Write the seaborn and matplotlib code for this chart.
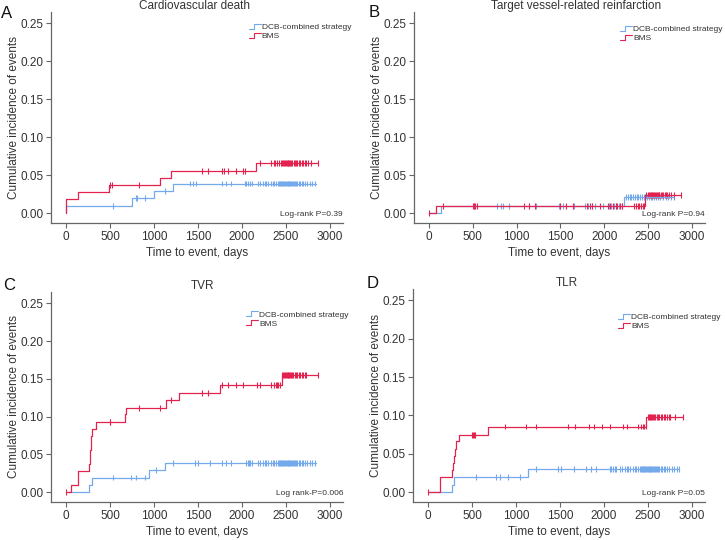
import numpy as np
import pandas as pd
import matplotlib
matplotlib.use("Agg")
import matplotlib.pyplot as plt
from matplotlib.lines import Line2D
from matplotlib.legend_handler import HandlerBase
import seaborn as sns

# ---------------- data ----------------
groups = ["DCB-combined strategy", "BMS"]
titles = ["Cardiovascular death", "Target vessel-related reinfarction", "TVR", "TLR"]
letters = ["A", "B", "C", "D"]
pvals = ["Log-rank P=0.39", "Log-rank P=0.94", "Log rank-P=0.006", "Log-rank P=0.05"]
x_ticks = [0, 500, 1000, 1500, 2000, 2500, 3000]
y_ticks = [0.00, 0.05, 0.10, 0.15, 0.20, 0.25]

# Panel A
A_dcb_t = [0, 0, 751, 1000, 1212, 2840]
A_dcb_y = [0, 0.0093, 0.0195, 0.0295, 0.039, 0.039]
A_bms_t = [0, 0, 140, 488, 1070, 1195, 2158, 2870]
A_bms_y = [0, 0.0186, 0.028, 0.0375, 0.0465, 0.0558, 0.066, 0.066]
A_dcb_c = [535, 793, 805, 895, 1124, 1407, 1445, 1483, 1779, 1825, 1882, 2034, 2050,
           2070, 2090, 2110, 2185, 2210, 2240, 2260, 2280, 2300, 2330, 2350, 2370, 2390,
           2410, 2420, 2430, 2440, 2450, 2460, 2470, 2480, 2490, 2500, 2510, 2520, 2530,
           2540, 2550, 2560, 2570, 2580, 2590, 2600, 2615, 2630, 2645, 2660, 2680, 2700,
           2720, 2740, 2770, 2800, 2830]
A_bms_c = [497, 520, 831, 1552, 1616, 1779, 1798, 1844, 1939, 2015, 2041, 2207, 2337,
           2360, 2380, 2400, 2420, 2440, 2455, 2470, 2480, 2490, 2500, 2510, 2520, 2530,
           2540, 2550, 2560, 2575, 2590, 2600, 2615, 2630, 2650, 2665, 2680, 2700, 2715,
           2730, 2753, 2790, 2867]

# Panel B
B_dcb_t = [0, 137, 2229, 2800]
B_dcb_y = [0, 0.0093, 0.0215, 0.0215]
B_bms_t = [0, 84, 2463, 2880]
B_bms_y = [0, 0.0093, 0.0235, 0.0235]
B_dcb_c = [520, 780, 820, 840, 910, 1140, 1220, 1480, 1500, 1530, 1650, 1780, 1820,
           1860, 1900, 1990, 2050, 2080, 2110, 2140, 2170, 2200, 2250, 2270, 2290, 2310,
           2330, 2350, 2370, 2390, 2410, 2430, 2450, 2470, 2490, 2510, 2530, 2550, 2570,
           2590, 2610, 2640, 2670, 2700, 2730, 2760, 2800]
B_bms_c = [0, 160, 505, 520, 530, 545, 1090, 1140, 1215, 1500, 1565, 1640, 1800, 1840,
           1860, 1950, 2040, 2070, 2100, 2130, 2150, 2180, 2200, 2340, 2360, 2380, 2400,
           2420, 2440, 2455, 2480, 2495, 2510, 2520, 2530, 2540, 2550, 2560, 2570, 2580,
           2590, 2600, 2610, 2620, 2630, 2645, 2660, 2675, 2690, 2705, 2720, 2740, 2760,
           2800, 2880]

# Panel C
C_dcb_t = [0, 262, 292, 944, 1123, 2840]
C_dcb_y = [0, 0.0097, 0.0194, 0.029, 0.0388, 0.0388]
C_bms_t = [0, 61, 137, 262, 268, 274, 280, 288, 300, 338, 668, 679, 1134, 1286, 1749,
           2455, 2867]
C_bms_y = [0, 0.0093, 0.028, 0.037, 0.047, 0.056, 0.065, 0.075, 0.084, 0.093, 0.103,
           0.112, 0.1217, 0.131, 0.1415, 0.1548, 0.1548]
C_dcb_c = [536, 745, 795, 895, 1029, 1218, 1464, 1502, 1635, 1779, 1825, 1882, 2050,
           2065, 2080, 2095, 2110, 2185, 2210, 2240, 2260, 2280, 2300, 2330, 2350, 2370,
           2390, 2410, 2420, 2430, 2440, 2450, 2460, 2470, 2480, 2490, 2500, 2510, 2520,
           2530, 2540, 2550, 2560, 2570, 2580, 2590, 2600, 2615, 2630, 2645, 2660, 2680,
           2700, 2720, 2740, 2770, 2800, 2830]
C_bms_c = [0, 497, 505, 831, 1066, 1199, 1552, 1616, 1779, 1844, 1939, 2015, 2167, 2205,
           2337, 2360, 2385, 2400, 2415, 2432, 2460, 2470, 2480, 2490, 2500, 2510, 2520,
           2530, 2540, 2550, 2560, 2570, 2585, 2600, 2615, 2630, 2645, 2660, 2680, 2700,
           2715, 2731, 2867]

# Panel D
D_dcb_t = [0, 269, 291, 1135, 2860]
D_dcb_y = [0, 0.0098, 0.0200, 0.0305, 0.0305]
D_bms_t = [0, 140, 269, 280, 291, 306, 321, 356, 679, 2484, 2900]
D_bms_y = [0, 0.0195, 0.029, 0.038, 0.047, 0.056, 0.066, 0.075, 0.0855, 0.0985, 0.0985]
D_dcb_c = [547, 776, 814, 909, 1042, 1232, 1478, 1516, 1660, 1800, 1850, 1914, 2066,
           2085, 2105, 2125, 2142, 2185, 2210, 2240, 2260, 2280, 2300, 2330, 2350, 2370,
           2390, 2410, 2420, 2430, 2440, 2450, 2460, 2470, 2480, 2490, 2500, 2510, 2520,
           2530, 2540, 2550, 2560, 2570, 2580, 2590, 2600, 2615, 2630, 2645, 2660, 2680,
           2700, 2720, 2740, 2770, 2800, 2830, 2860]
D_bms_c = [0, 505, 515, 520, 530, 873, 1112, 1234, 1595, 1671, 1834, 1891, 1975, 2070,
           2222, 2260, 2393, 2420, 2440, 2460, 2475, 2500, 2510, 2520, 2530, 2540, 2550,
           2560, 2570, 2585, 2600, 2615, 2630, 2645, 2660, 2680, 2700, 2715, 2735, 2750,
           2810, 2900]

panels = [
    (A_dcb_t, A_dcb_y, A_dcb_c, A_bms_t, A_bms_y, A_bms_c),
    (B_dcb_t, B_dcb_y, B_dcb_c, B_bms_t, B_bms_y, B_bms_c),
    (C_dcb_t, C_dcb_y, C_dcb_c, C_bms_t, C_bms_y, C_bms_c),
    (D_dcb_t, D_dcb_y, D_dcb_c, D_bms_t, D_bms_y, D_bms_c),
]

# ---------------- style ----------------
sns.set_theme(style="ticks")
plt.rcParams["font.family"] = ["Liberation Sans", "DejaVu Sans"]
TXT = "#333333"
SPINE = "#666666"
palette = {"DCB-combined strategy": "#74aaec", "BMS": "#e2234f"}

W, H = 725, 540
fig = plt.figure(figsize=(W / 100, H / 100), dpi=100)

# axes boxes in pixels (x0, y0_top, x1, y1_bottom)
boxes = [(51, 12, 343, 223), (414, 12, 705, 223), (51, 292, 343, 502), (413, 289, 705, 502)]
title_x = [0.49, 0.557, 0.52, 0.527]
leg_anchor = [(0.675, 0.95), (0.705, 0.94), (0.665, 0.915), (0.70, 0.89)]
letter_pos = [(1, 18), (369, 17), (3, 290), (367, 288)]


class StepHandler(HandlerBase):
    def create_artists(self, legend, orig_handle, xdescent, ydescent, width, height,
                       fontsize, trans):
        xs = np.array([0, 0.4, 0.4, 1.0]) * width - xdescent
        ys = np.array([0.05, 0.05, 0.95, 0.95]) * height - ydescent
        ln = Line2D(xs, ys, color=orig_handle.get_color(), lw=0.8, transform=trans)
        return [ln]


def step_value(t, y, c):
    t = np.asarray(t)
    y = np.asarray(y)
    idx = np.searchsorted(t, c, side="right") - 1
    return y[np.clip(idx, 0, len(y) - 1)]


for i, (dt, dy, dc, bt, by, bc) in enumerate(panels):
    x0, y0, x1, y1 = boxes[i]
    ax = fig.add_axes([x0 / W, 1 - y1 / H, (x1 - x0) / W, (y1 - y0) / H])

    curves = pd.concat([
        pd.DataFrame({"time": dt, "inc": dy, "group": groups[0]}),
        pd.DataFrame({"time": bt, "inc": by, "group": groups[1]}),
    ], ignore_index=True)
    cens = pd.concat([
        pd.DataFrame({"time": dc, "inc": step_value(dt, dy, dc), "group": groups[0]}),
        pd.DataFrame({"time": bc, "inc": step_value(bt, by, bc), "group": groups[1]}),
    ], ignore_index=True)

    sns.lineplot(data=curves, x="time", y="inc", hue="group", palette=palette,
                 hue_order=groups, estimator=None, sort=False, units="group",
                 drawstyle="steps-post", lw=0.9, legend=False, ax=ax)
    sns.scatterplot(data=cens, x="time", y="inc", hue="group", palette=palette,
                    hue_order=groups, marker="|", s=18, linewidth=0.8, legend=False,
                    ax=ax)

    ax.set_xlim(-170, 3150)
    ax.set_ylim(-0.013, 0.265)
    ax.set_xticks(x_ticks)
    ax.set_yticks(y_ticks)
    ax.set_xticklabels([str(v) for v in x_ticks])
    ax.set_yticklabels([f"{v:.2f}" for v in y_ticks])
    ax.tick_params(axis="both", labelsize=8.5, colors=SPINE, labelcolor=TXT,
                   length=3.5, width=0.8, pad=2)
    for s in ["top", "right"]:
        ax.spines[s].set_visible(False)
    for s in ["left", "bottom"]:
        ax.spines[s].set_color(SPINE)
        ax.spines[s].set_linewidth(0.9)

    ax.set_xlabel("Time to event, days", fontsize=8.5, color=TXT, labelpad=3)
    ax.set_ylabel("Cumulative incidence of events", fontsize=8.5, color=TXT, labelpad=0)
    ax.set_title(titles[i], fontsize=8.5, color=TXT, x=title_x[i], pad=1)

    handles = [Line2D([], [], color=palette[g]) for g in groups]
    leg = ax.legend(handles, groups, loc="upper left", bbox_to_anchor=leg_anchor[i],
                    frameon=False, fontsize=6, handlelength=1.4, handletextpad=0.15,
                    labelspacing=0.15, borderpad=0.1, borderaxespad=0,
                    handler_map={Line2D: StepHandler()})
    for t in leg.get_texts():
        t.set_color(TXT)

    ax.text(1.0, 0.04, pvals[i], transform=ax.transAxes, ha="right", va="center",
            fontsize=6, color=TXT)

    lx, ly = letter_pos[i]
    fig.text(lx / W, 1 - ly / H, letters[i], fontsize=12, color="#111111",
             ha="left", va="baseline")

fig.savefig("out.png", dpi=100)
